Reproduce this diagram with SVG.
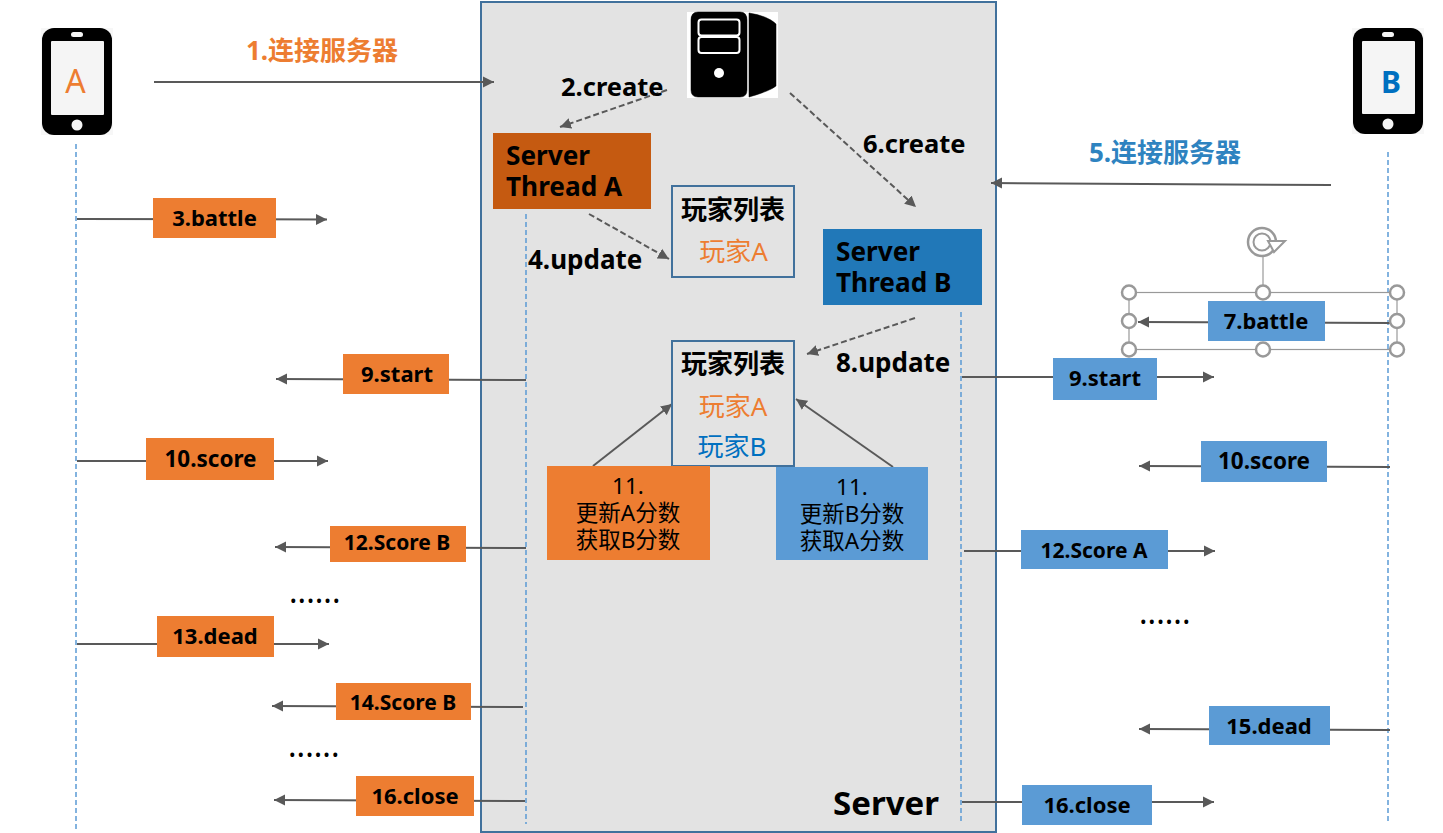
<svg xmlns="http://www.w3.org/2000/svg" width="1443" height="833" viewBox="0 0 1443 833">
<style>
text{font-family:"Noto Sans","Noto Sans CJK SC",sans-serif;fill:#000}
.b{font-weight:700}
.c{text-anchor:middle}
.l{font-size:25.500px;font-weight:700}
.u{font-size:26px;font-weight:700}
.m{font-size:22px;font-weight:700;text-anchor:middle}
.o{fill:#ed7d31}
.bl{fill:#5b9bd5}
.ln{stroke:#595959;stroke-width:2;fill:none;marker-end:url(#a)}
.ds{stroke:#595959;stroke-width:2;fill:none;stroke-dasharray:6 3;marker-end:url(#a)}
.life{stroke:#5b9bd5;stroke-width:1.5;fill:none;stroke-dasharray:5 3}
.h{fill:#fff;stroke:#999;stroke-width:2.5}
.hl{stroke:#999;stroke-width:1.2;fill:none}
</style>
<defs>
<marker id="a" markerUnits="userSpaceOnUse" markerWidth="12" markerHeight="12" refX="11" refY="6" orient="auto"><path d="M0 0.5L11 6L0 11.5Z" fill="#595959"/></marker>
</defs>
<rect width="1443" height="833" fill="#fff"/>
<g id="server"><rect x="481" y="2" width="515" height="830" fill="#e3e3e3" stroke="#41719c" stroke-width="2"/>
<text x="886" y="815" class="b c" font-size="33">Server</text></g>
<g id="server-icon"><rect x="687" y="12" width="91" height="86" fill="#fff"/>
<path d="M698 12H740Q747 12 747 20V90Q747 97 740 97H698Q691 97 691 90V20Q691 12 698 12ZM749 13Q768 16 776 24V86Q770 91 749 97Z" fill="#000" stroke="#000" stroke-width="0.500"/>
<rect x="698.500" y="19.500" width="41" height="16" rx="3" fill="none" stroke="#fff" stroke-width="2"/>
<rect x="698.500" y="37" width="41" height="16" rx="3" fill="none" stroke="#fff" stroke-width="2"/>
<circle cx="719" cy="73" r="5" fill="#fff"/></g>
<g id="phone-a"><rect x="41" y="28" width="72" height="107" fill="#f7f7f7"/>
<rect x="42" y="28" width="70" height="107" rx="12" fill="#000"/>
<rect x="51" y="41" width="53" height="74" rx="1" fill="#f5f5f5"/>
<rect x="71" y="32" width="12" height="5" rx="2.500" fill="#f5f5f5"/>
<circle cx="77" cy="125" r="5.500" fill="#f5f5f5"/>
<text x="75.500" y="93" class="c" font-size="32" style="fill:#ed7d31">A</text></g>
<g id="phone-b"><rect x="1352" y="28" width="72" height="106" fill="#f7f7f7"/>
<rect x="1353" y="28" width="70" height="106" rx="12" fill="#000"/>
<rect x="1362" y="41" width="53" height="73" rx="1" fill="#f5f5f5"/>
<rect x="1382" y="32" width="12" height="5" rx="2.500" fill="#f5f5f5"/>
<circle cx="1388" cy="124" r="5.500" fill="#f5f5f5"/>
<text x="1391" y="93" class="c b" font-size="30" style="fill:#0070c0">B</text></g>
<g id="connectors">
<path class="life" d="M76 144V830M1388 152V822M526 214V824M961 312V824"/>
<path class="ln" d="M154 82H494"/>
<path class="ds" d="M667 90L560 127"/>
<path class="ds" d="M790 93L916 207"/>
<path class="ds" d="M589 214L669 259"/>
<path class="ds" d="M915 318L807 354"/>
<path class="ln" d="M1331 185L991 183"/>
<path class="ln" d="M77 219L327 219.500"/>
<path class="ln" d="M1393 323L1138 322"/>
<path class="ln" d="M526 380L276 379"/>
<path class="ln" d="M962 377H1214"/>
<path class="ln" d="M77 461H328"/>
<path class="ln" d="M1390 467L1139 466"/>
<path class="ln" d="M526 548L275 547"/>
<path class="ln" d="M964 551H1215"/>
<path class="ln" d="M77 644H329"/>
<path class="ln" d="M523 707L272 706"/>
<path class="ln" d="M1390 730L1139 729"/>
<path class="ln" d="M525 801L274 800"/>
<path class="ln" d="M962 802H1214"/>
<path class="ln" d="M593 466L672 404"/>
<path class="ln" d="M893 467L796 399"/>
</g>
<g id="title-1"><text x="322" y="60" class="c b" font-size="26" style="fill:#ed7d31">1.连接服务器</text></g>
<g id="title-5"><text x="1165" y="162" class="c b" font-size="26" style="fill:#2e83c0">5.连接服务器</text></g>
<g id="label-2"><text x="561" y="96" class="l">2.create</text></g>
<g id="label-6"><text x="863" y="153" class="l">6.create</text></g>
<g id="label-4"><text x="528" y="269" class="u">4.update</text></g>
<g id="label-8"><text x="836" y="372" class="u">8.update</text></g>
<g id="thread-a"><rect x="493" y="133" width="158" height="76" fill="#c55a11"/>
<text class="b" font-size="26.200"><tspan x="506" y="165">Server</tspan><tspan x="506" y="196">Thread A</tspan></text></g>
<g id="thread-b"><rect x="823" y="229" width="159" height="76" fill="#2178b8"/>
<text class="b" font-size="26.200"><tspan x="836" y="261">Server</tspan><tspan x="836" y="292">Thread B</tspan></text></g>
<g id="list-1"><rect x="672" y="186" width="122" height="91" fill="#e3e3e3" stroke="#41719c" stroke-width="2"/>
<text x="733" y="219" class="c b" font-size="26">玩家列表</text>
<text x="733.500" y="261" class="c" font-size="26" style="fill:#ed7d31">玩家A</text></g>
<g id="list-2"><rect x="672" y="341" width="122" height="125" fill="#e3e3e3" stroke="#41719c" stroke-width="2"/>
<text x="733" y="373" class="c b" font-size="26">玩家列表</text>
<text x="733" y="416" class="c" font-size="26" style="fill:#ed7d31">玩家A</text>
<text x="732" y="456" class="c" font-size="26" style="fill:#0070c0">玩家B</text></g>
<g id="score-a"><rect x="547" y="466" width="163" height="94" class="o"/>
<text class="c" font-size="22.500"><tspan x="628" y="494">11.</tspan><tspan x="628" y="521">更新A分数</tspan><tspan x="628" y="548">获取B分数</tspan></text></g>
<g id="score-b"><rect x="776" y="467" width="152" height="93" class="bl"/>
<text class="c" font-size="22.500"><tspan x="852" y="495">11.</tspan><tspan x="852" y="522">更新B分数</tspan><tspan x="852" y="549">获取A分数</tspan></text></g>
<g id="m3"><rect x="153" y="198" width="123" height="40" class="o"/><text x="214.500" y="226" class="m">3.battle</text></g>
<g id="m9a"><rect x="343" y="354" width="106" height="40" class="o"/><text x="397" y="382" class="m">9.start</text></g>
<g id="m10a"><rect x="146" y="438" width="128" height="42" class="o"/><text x="210.500" y="467" class="m" style="font-size:22.500px">10.score</text></g>
<g id="m12a"><rect x="330" y="526" width="136" height="36" class="o"/><text x="397" y="550" class="m" style="font-size:21px">12.Score B</text></g>
<g id="m13"><rect x="157" y="616" width="117" height="41" class="o"/><text x="215" y="644" class="m">13.dead</text></g>
<g id="m14"><rect x="336" y="683" width="135" height="37" class="o"/><text x="403" y="710" class="m" style="font-size:21px">14.Score B</text></g>
<g id="m16a"><rect x="356" y="776" width="118" height="40" class="o"/><text x="415" y="804" class="m">16.close</text></g>
<g id="m7"><rect x="1208" y="301" width="117" height="40" class="bl"/><text x="1266" y="329" class="m">7.battle</text></g>
<g id="m9b"><rect x="1053" y="358" width="104" height="42" class="bl"/><text x="1105" y="386" class="m">9.start</text></g>
<g id="m10b"><rect x="1201" y="441" width="126" height="41" class="bl"/><text x="1264" y="469" class="m" style="font-size:22.500px">10.score</text></g>
<g id="m12b"><rect x="1021" y="530" width="147" height="39" class="bl"/><text x="1094" y="558" class="m" style="font-size:21px">12.Score A</text></g>
<g id="m15"><rect x="1209" y="706" width="121" height="39" class="bl"/><text x="1269" y="734" class="m">15.dead</text></g>
<g id="m16b"><rect x="1022" y="785" width="130" height="40" class="bl"/><text x="1087" y="813" class="m">16.close</text></g>
<g id="dots"><text x="289" y="603" font-size="32">......</text><text x="288" y="757" font-size="32">......</text><text x="1139" y="624" font-size="32">......</text></g>
<g id="selection">
<rect x="1129" y="292.500" width="268" height="57" class="hl"/>
<path class="hl" d="M1263 292V257"/>
<circle cx="1129" cy="292.500" r="7" class="h"/><circle cx="1263" cy="292.500" r="7" class="h"/><circle cx="1397" cy="292.500" r="7" class="h"/>
<circle cx="1129" cy="321" r="7" class="h"/><circle cx="1397" cy="321" r="7" class="h"/>
<circle cx="1129" cy="349.500" r="7" class="h"/><circle cx="1263" cy="349.500" r="7" class="h"/><circle cx="1397" cy="349.500" r="7" class="h"/>
<circle cx="1262" cy="242" r="14" fill="none" stroke="#999" stroke-width="2.500"/>
<circle cx="1262" cy="242" r="8.500" fill="none" stroke="#999" stroke-width="2"/>
<path d="M1268 241H1285L1274 252Z" fill="#fff" stroke="#999" stroke-width="2"/>
</g>
</svg>
